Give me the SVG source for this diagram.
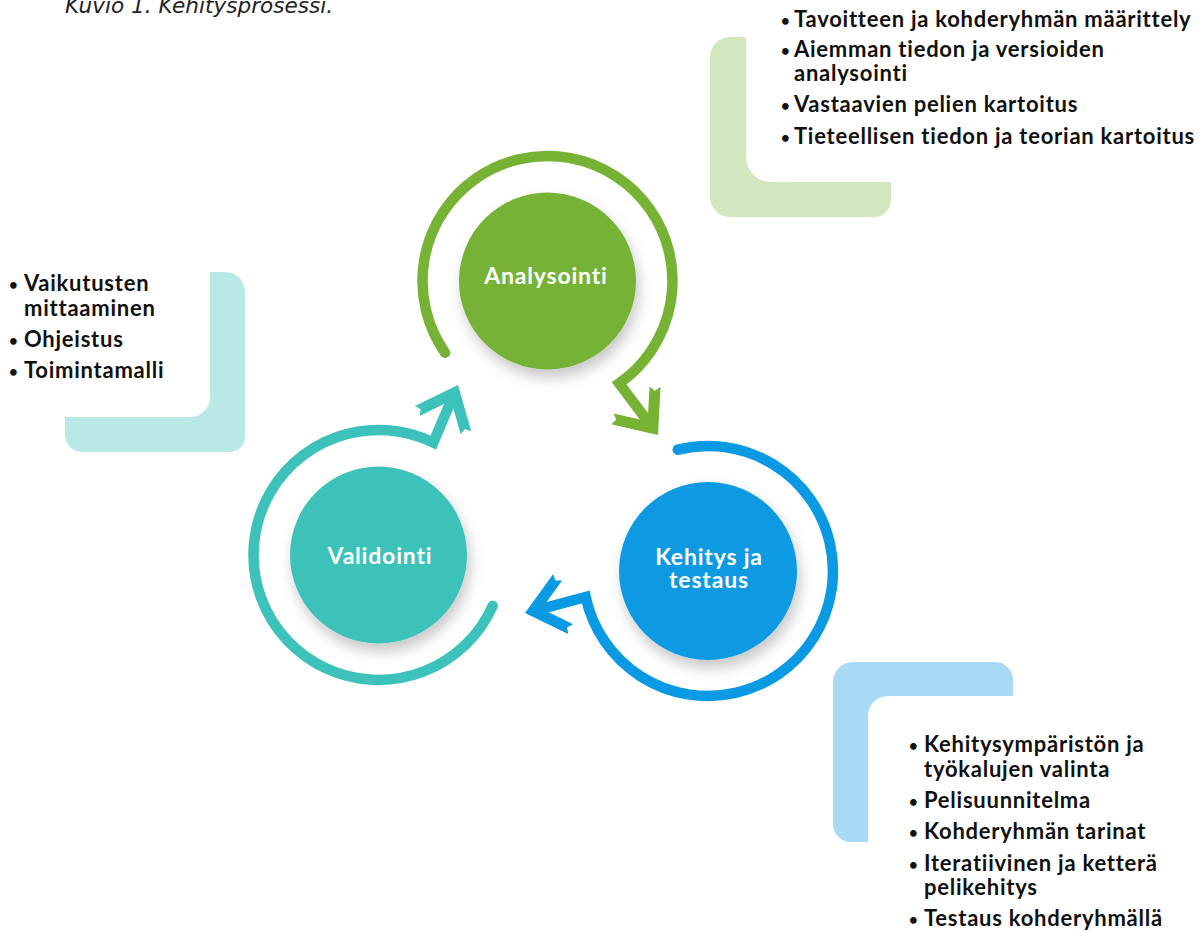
<svg xmlns="http://www.w3.org/2000/svg" width="1203" height="931" viewBox="0 0 1203 931">
<defs>
<style>
.cap{font-family:"DejaVu Sans","Liberation Sans",sans-serif;font-style:italic;font-size:21.6px;fill:#222}
.li{font-family:Lato,"Liberation Sans",sans-serif;font-weight:700;font-size:22px;letter-spacing:0.75px;fill:#111}
.b{font-size:15px;letter-spacing:0}
.ct{font-family:Lato,"Liberation Sans",sans-serif;font-weight:700;font-size:23px;letter-spacing:0.8px;fill:#fff;text-anchor:middle}
.arc{fill:none;stroke-width:10.5;stroke-linecap:round;stroke-linejoin:miter}
</style>
<filter id="sh" x="-30%" y="-30%" width="170%" height="170%">
<feDropShadow dx="3" dy="8" stdDeviation="7" flood-color="#000" flood-opacity="0.22"/>
</filter>
<path id="head" d="M0 0 L-36.8 -30.9 L-37.3 -24.2 L-43.9 -22.5 L-17.1 0 L-43.9 22.5 L-37.3 24.2 L-36.8 30.9 Z"/>
</defs>

<text class="cap" x="65" y="13">Kuvio 1. Kehitysprosessi.</text>

<g id="box-analysointi">
<path fill="#D3E7BE" d="M710 57 A20 20 0 0 1 730 37 L746 37 L746 157 A25 25 0 0 0 771 182 L891 182 L891 200 A17 17 0 0 1 874 217 L730 217 A20 20 0 0 1 710 197 Z"/>
<text class="li"><tspan class="b" x="781" y="26">•</tspan><tspan x="794" y="27">Tavoitteen ja kohderyhmän määrittely</tspan></text>
<text class="li"><tspan class="b" x="781" y="56">•</tspan><tspan x="794" y="57">Aiemman tiedon ja versioiden</tspan><tspan x="794" y="81">analysointi</tspan></text>
<text class="li"><tspan class="b" x="781" y="111">•</tspan><tspan x="794" y="112">Vastaavien pelien kartoitus</tspan></text>
<text class="li"><tspan class="b" x="781" y="143">•</tspan><tspan x="794" y="144">Tieteellisen tiedon ja teorian kartoitus</tspan></text>
</g>

<g id="box-validointi">
<path fill="#B9E9E6" d="M210 272 L225 272 A20 20 0 0 1 245 292 L245 437 A15 15 0 0 1 230 452 L82 452 A17 17 0 0 1 65 435 L65 417 L190 417 A20 20 0 0 0 210 397 Z"/>
<text class="li"><tspan class="b" x="9" y="290">•</tspan><tspan x="24" y="291">Vaikutusten</tspan><tspan x="24" y="316">mittaaminen</tspan></text>
<text class="li"><tspan class="b" x="9" y="346">•</tspan><tspan x="24" y="347">Ohjeistus</tspan></text>
<text class="li"><tspan class="b" x="9" y="377">•</tspan><tspan x="24" y="378">Toimintamalli</tspan></text>
</g>

<g id="box-kehitys">
<path fill="#A8DAF5" d="M833 682 A20 20 0 0 1 853 662 L995 662 A18 18 0 0 1 1013 680 L1013 696 L888 696 A20 20 0 0 0 868 716 L868 842 L851 842 A18 18 0 0 1 833 824 Z"/>
<text class="li"><tspan class="b" x="909" y="751">•</tspan><tspan x="924" y="752">Kehitysympäristön ja</tspan><tspan x="924" y="777">työkalujen valinta</tspan></text>
<text class="li"><tspan class="b" x="909" y="807">•</tspan><tspan x="924" y="808">Pelisuunnitelma</tspan></text>
<text class="li"><tspan class="b" x="909" y="838">•</tspan><tspan x="924" y="839">Kohderyhmän tarinat</tspan></text>
<text class="li"><tspan class="b" x="909" y="870">•</tspan><tspan x="924" y="871">Iteratiivinen ja ketterä</tspan><tspan x="924" y="895">pelikehitys</tspan></text>
<text class="li"><tspan class="b" x="909" y="925">•</tspan><tspan x="924" y="926">Testaus kohderyhmällä</tspan></text>
</g>

<g id="connectors">
<path class="arc" stroke="#76B234" d="M445.1 352.7 A125 125 0 1 1 619.2 383.4 L650.8 425.4"/>
<use href="#head" fill="#76B234" transform="translate(658 435) rotate(53)"/>
<path class="arc" stroke="#099AE3" d="M677.8 449.7 A125 125 0 1 1 585.7 597 L536.6 610.1"/>
<use href="#head" fill="#099AE3" transform="translate(525 613) rotate(166)"/>
<path class="arc" stroke="#3CC2BA" d="M492.7 605.8 A125 125 0 1 1 433.3 442.6 L453.1 396"/>
<use href="#head" fill="#3CC2BA" transform="translate(458 385) rotate(-66)"/>
</g>

<g id="node-analysointi">
<circle cx="547.5" cy="281" r="88.5" fill="#76B234" filter="url(#sh)"/>
<text class="ct" x="546" y="284">Analysointi</text>
</g>

<g id="node-kehitys">
<circle cx="708" cy="571" r="89" fill="#099AE3" filter="url(#sh)"/>
<text class="ct"><tspan x="709" y="565">Kehitys ja</tspan><tspan x="709" y="588">testaus</tspan></text>
</g>

<g id="node-validointi">
<circle cx="378.5" cy="555" r="88.5" fill="#3CC2BA" filter="url(#sh)"/>
<text class="ct" x="380" y="564">Validointi</text>
</g>
</svg>
